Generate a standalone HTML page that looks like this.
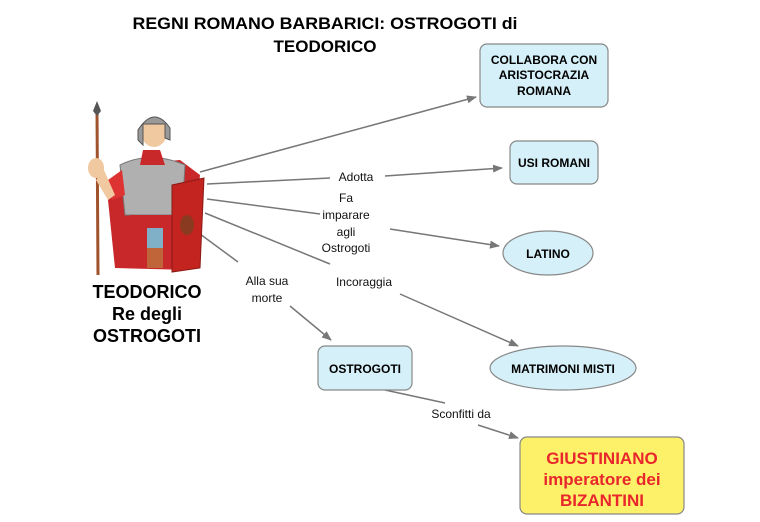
<!DOCTYPE html>
<html><head><meta charset="utf-8"><style>
body{margin:0;background:#fff;}
svg{display:block;font-family:"Liberation Sans",sans-serif;}
</style></head><body>
<svg width="760" height="522" viewBox="0 0 760 522">
<defs><marker id="a" markerWidth="10" markerHeight="8" refX="9" refY="4" orient="auto" markerUnits="userSpaceOnUse"><path d="M0,0L10,4L0,8z" fill="#777"/></marker></defs>
<text x="325" y="29" font-size="17" font-weight="bold" text-anchor="middle" textLength="385" lengthAdjust="spacingAndGlyphs">REGNI ROMANO BARBARICI: OSTROGOTI di</text>
<text x="325" y="52" font-size="17" font-weight="bold" text-anchor="middle" textLength="103" lengthAdjust="spacingAndGlyphs">TEODORICO</text>
<g stroke="#777" stroke-width="1.5" fill="none">
<line x1="200" y1="172" x2="476" y2="97" marker-end="url(#a)"/>
<polyline points="207,184 330,178" /><polyline points="385,176 502,168" marker-end="url(#a)"/>
<polyline points="207,199 320,214"/><polyline points="390,229 499,246" marker-end="url(#a)"/>
<polyline points="205,213 330,264"/><polyline points="400,294 518,346" marker-end="url(#a)"/>
<polyline points="200,234 238,262"/><polyline points="290,306 331,340" marker-end="url(#a)"/>
<polyline points="385,390 445,403"/><polyline points="478,425 518,438" marker-end="url(#a)"/>
</g>
<g font-size="12" text-anchor="middle" fill="#111">
<text x="356" y="181">Adotta</text>
<text x="346" y="202">Fa</text><text x="346" y="219">imparare</text><text x="346" y="236">agli</text><text x="346" y="252">Ostrogoti</text>
<text x="364" y="286">Incoraggia</text>
<text x="267" y="285">Alla sua</text><text x="267" y="302">morte</text>
<text x="461" y="418">Sconfitti da</text>
</g>
<g stroke="#888" stroke-width="1.2" fill="#d6f0f9">
<rect x="480" y="44" width="128" height="63" rx="7"/>
<rect x="510" y="141" width="88" height="43" rx="7"/>
<ellipse cx="548" cy="253" rx="45" ry="22"/>
<ellipse cx="563" cy="368" rx="73" ry="22"/>
<rect x="318" y="346" width="94" height="44" rx="7"/>
<rect x="520" y="437" width="164" height="77" rx="7" fill="#fdf16a"/>
</g>
<g font-size="12" font-weight="bold" text-anchor="middle">
<text x="544" y="64">COLLABORA CON</text><text x="544" y="79">ARISTOCRAZIA</text><text x="544" y="95">ROMANA</text>
<text x="554" y="167">USI ROMANI</text>
<text x="548" y="258">LATINO</text>
<text x="563" y="373">MATRIMONI MISTI</text>
<text x="365" y="373">OSTROGOTI</text>
</g>
<g font-size="17" font-weight="bold" text-anchor="middle" fill="#e8262b">
<text x="602" y="464">GIUSTINIANO</text><text x="602" y="485">imperatore dei</text><text x="602" y="506">BIZANTINI</text>
</g>
<g font-size="18" font-weight="bold" text-anchor="middle">
<text x="147" y="298">TEODORICO</text><text x="147" y="320">Re degli</text><text x="147" y="342">OSTROGOTI</text>
</g>
<!-- soldier -->
<line x1="97" y1="110" x2="98" y2="275" stroke="#a0522d" stroke-width="3"/>
<path d="M97,101 L101,111 L97,116 L93,111z" fill="#555"/>
<path d="M125,165 L180,160 L200,175 L190,270 L115,268 L108,200z" fill="#c8282a"/>
<path d="M120,165 Q150,150 185,165 L182,215 L125,215z" fill="#b0b0b0" stroke="#777"/>
<rect x="130" y="215" width="50" height="15" fill="#c8282a"/>
<rect x="147" y="228" width="16" height="40" fill="#7fb0c8"/>
<rect x="147" y="248" width="16" height="20" fill="#c0643a"/>
<path d="M122,170 L108,180 L112,200 L125,195z" fill="#d33"/>
<ellipse cx="96" cy="168" rx="8" ry="10" fill="#f1c9a0"/>
<path d="M104,170 L115,195 L108,200 L96,180z" fill="#f1c9a0"/>
<path d="M143,150 L160,150 L165,165 L140,165z" fill="#c8282a"/>
<ellipse cx="154" cy="132" rx="13" ry="15" fill="#f1c9a0"/>
<path d="M138,130 Q154,105 170,128 L170,140 L165,138 L165,124 L143,124 L143,145 L138,140z" fill="#999" stroke="#555"/>
<path d="M172,185 L204,178 L200,268 L172,272z" fill="#c4241f" stroke="#8a1a15"/>
<ellipse cx="187" cy="225" rx="7" ry="10" fill="#8a3a20"/>
</svg>
</body></html>
